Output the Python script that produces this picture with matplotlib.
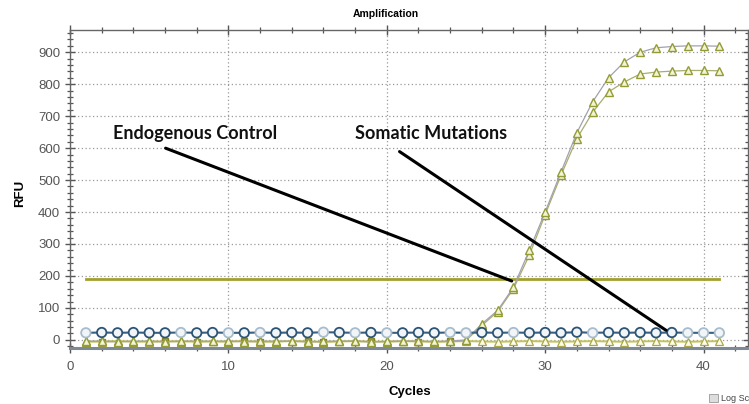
import numpy as np
import matplotlib
matplotlib.use("Agg")
import matplotlib.pyplot as plt
from matplotlib.ticker import MultipleLocator

plt.rcParams['font.family'] = ['Liberation Sans', 'DejaVu Sans']

cycles = list(range(1, 42))

# amplifying curves (RFU)
amp_high = [-4, -5, -6, -4, -5, -6, -4, -5, -5, -4, -6, -5, -4, -5, -6, -5, -4, -5, -6, -5,
            -4, -5, -5, -4, 0, 50, 92, 165, 280, 400, 525, 648, 745, 820, 870, 900, 914,
            918, 920, 920, 919]
amp_low = [-6, -4, -5, -6, -4, -5, -6, -4, -5, -6, -4, -5, -6, -4, -5, -6, -5, -4, -5, -6,
           -5, -4, -6, -5, -2, 45, 88, 160, 265, 392, 515, 630, 712, 776, 807, 832, 838,
           841, 843, 843, 842]
# non-amplifying triangle series
flat_tri = [-5, -6, -4, -5, -6, -5, -4, -6, -5, -5, -4, -6, -5, -4, -5, -6, -5, -4, -6, -5,
            -4, -5, -6, -5, -4, -5, -6, -5, -4, -5, -6, -5, -4, -5, -6, -5, -4, -5, -6, -5, -4]
# olive squares on the baseline
sq_cycles = [2, 6, 8, 11, 12, 15, 16, 19, 22, 24]
sq_vals = [-6, -5, -6, -5, -6, -5, -6, -5, -6, -5]
# endogenous control circles
circ_vals = [22, 23, 22, 23, 22, 22, 23, 22, 23, 22, 22, 23, 22, 23, 22, 24, 23, 22, 23, 22,
             22, 23, 22, 23, 22, 23, 22, 23, 22, 23, 22, 24, 22, 23, 22, 23, 22, 23, 22, 22, 22]
circ_light = [1, 7, 10, 12, 16, 18, 20, 24, 25, 28, 33, 39, 40, 41]

threshold = 190
thr_range = [1, 41]

fig = plt.figure(figsize=(7.49, 4.04), dpi=100)
ax = fig.add_axes([0.0935, 0.139, 0.905, 0.787])

ax.set_xlim(0, 42.8)
ax.set_ylim(-25, 970)

# grid
ax.set_axisbelow(True)
ax.grid(True, which='major', linestyle=(0, (1, 2)), color='#9a9a9a', linewidth=0.9)

# threshold
ax.plot(thr_range, [threshold, threshold], color='#a2a02c', linewidth=2.0, zorder=2)

# baseline triangles
ax.plot(cycles, flat_tri, color='#c4c35a', linewidth=1.4, marker='^', markersize=5.5,
        markerfacecolor='#fbfbe8', markeredgecolor='#a8a84a', markeredgewidth=0.9, zorder=3)
ax.plot(sq_cycles, sq_vals, linestyle='none', marker='s', markersize=4.5,
        markerfacecolor='#aaa22e', markeredgecolor='#857e22', zorder=4)

# amplification curves
ax.plot(cycles, amp_low, color='#a9ad70', linewidth=0.9, marker='^', markersize=6,
        markerfacecolor='#f3f4d6', markeredgecolor='#939c34', markeredgewidth=1.0, zorder=4)
ax.plot(cycles, amp_high, color='#a3a1ae', linewidth=0.9, marker='^', markersize=6,
        markerfacecolor='#f3f4d6', markeredgecolor='#939c34', markeredgewidth=1.0, zorder=4)

# circles
ax.plot(cycles, circ_vals, color='#3a5f80', linewidth=1.5, zorder=5)
edge = ['#a7bccd' if c in circ_light else '#2c5476' for c in cycles]
ax.scatter(cycles, circ_vals, s=46, marker='o', facecolors='#f2f5f8', edgecolors=edge,
           linewidths=1.3, zorder=6)

# annotations
ax.text(2.7, 647, 'Endogenous Control', fontsize=13, fontweight='bold',
        family=['Lato', 'DejaVu Sans'], va='center', ha='left', color='#111111')
ax.text(18.0, 647, 'Somatic Mutations', fontsize=13, fontweight='bold',
        family=['Lato', 'DejaVu Sans'], va='center', ha='left', color='#111111')
ax.annotate('', xy=(28.05, 181), xytext=(5.87, 603),
            arrowprops=dict(arrowstyle='-', color='black', lw=2.2), zorder=8)
ax.annotate('', xy=(37.78, 25), xytext=(20.66, 594),
            arrowprops=dict(arrowstyle='-', color='black', lw=2.2), zorder=8)

# ticks
ax.xaxis.set_major_locator(MultipleLocator(10))
ax.xaxis.set_minor_locator(MultipleLocator(2))
ax.yaxis.set_major_locator(MultipleLocator(100))
ax.yaxis.set_minor_locator(MultipleLocator(20))
ax.set_yticks(range(0, 1000, 100))
ax.tick_params(which='both', direction='inout', top=True, right=True, colors='#555555',
               labelsize=9.5, labelcolor='#555555')
ax.tick_params(which='major', length=7, width=1.0)
ax.tick_params(which='minor', length=5, width=0.9)
ax.tick_params(axis='x', which='major', pad=6)

for s in ax.spines.values():
    s.set_color('#666666')
    s.set_linewidth(1.0)
ax.spines['bottom'].set_color('#7d8a96')
ax.spines['bottom'].set_linewidth(2.2)

fig.text(0.515, 0.966, 'Amplification', fontsize=7.5, fontweight='bold', ha='center', va='center')
fig.text(0.027, 0.52, 'RFU', fontsize=9.5, fontweight='bold', rotation=90, ha='center', va='center')
fig.text(0.547, 0.03, 'Cycles', fontsize=9.5, fontweight='bold', ha='center', va='center')

# log scale checkbox (cut off)
fig.patches.append(plt.Rectangle((0.947, 0.004), 0.011, 0.02, transform=fig.transFigure,
                                 facecolor='#dddddd', edgecolor='#999999', linewidth=0.6))
fig.text(0.962, 0.014, 'Log Sc', fontsize=6.5, ha='left', va='center', color='#444444')

fig.savefig('out.png', dpi=100)
